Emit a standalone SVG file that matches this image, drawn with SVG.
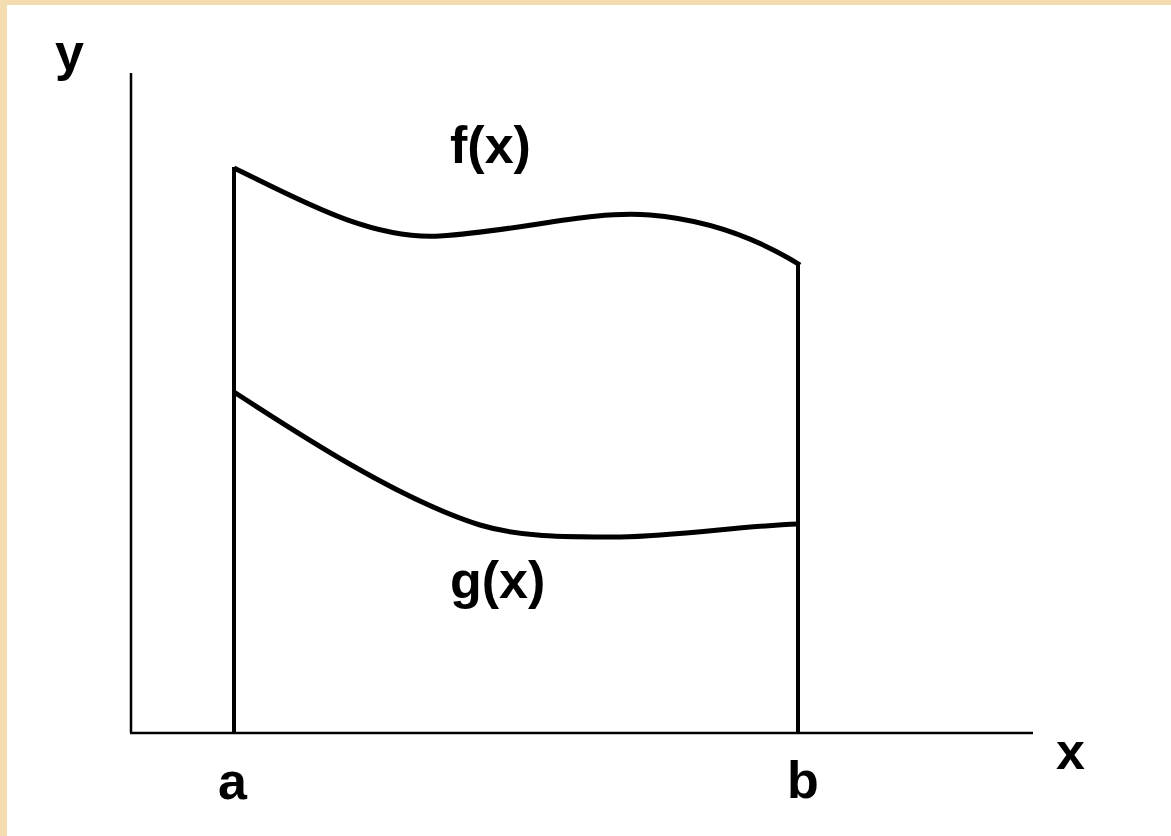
<svg xmlns="http://www.w3.org/2000/svg" width="1171" height="836" viewBox="0 0 1171 836">
<style>
.lbl{font-family:"Liberation Sans",Arial,sans-serif;font-weight:bold;font-size:52px;fill:#000}
.axis{stroke:#000;stroke-width:2.5;fill:none}
.edge{stroke:#000;stroke-width:4;fill:none}
.curve{stroke:#000;stroke-width:5;fill:none;stroke-linejoin:round}
</style>
<rect x="0" y="0" width="1171" height="836" fill="#f2dcb0"/>
<rect x="7" y="5" width="1164" height="831" fill="#ffffff"/>
<g id="axes">
<line class="axis" x1="131" y1="73" x2="131" y2="733"/>
<line class="axis" x1="130" y1="733" x2="1033" y2="733"/>
</g>
<g id="connectors">
<line class="edge" x1="234" y1="167" x2="234" y2="733"/>
<line class="edge" x1="798" y1="263" x2="798" y2="733"/>
</g>
<g id="f-curve">
<path class="curve" d="M234,168 C300,200 370,240 440,236 C520,231 590,210 650,215 C710,220 760,240 800,265"/>
</g>
<g id="g-curve">
<path class="curve" d="M234,392 C300,435 400,500 480,525 C520,537 560,537 620,537 C680,536 740,526 798,524"/>
</g>
<g id="label-y"><text class="lbl" x="55" y="70">y</text></g>
<g id="label-x"><text class="lbl" x="1056" y="769">x</text></g>
<g id="label-a"><text class="lbl" x="218" y="799">a</text></g>
<g id="label-b"><text class="lbl" x="787" y="798">b</text></g>
<g id="label-f"><text class="lbl" x="450" y="163">f(x)</text></g>
<g id="label-g"><text class="lbl" x="450" y="598">g(x)</text></g>
</svg>
